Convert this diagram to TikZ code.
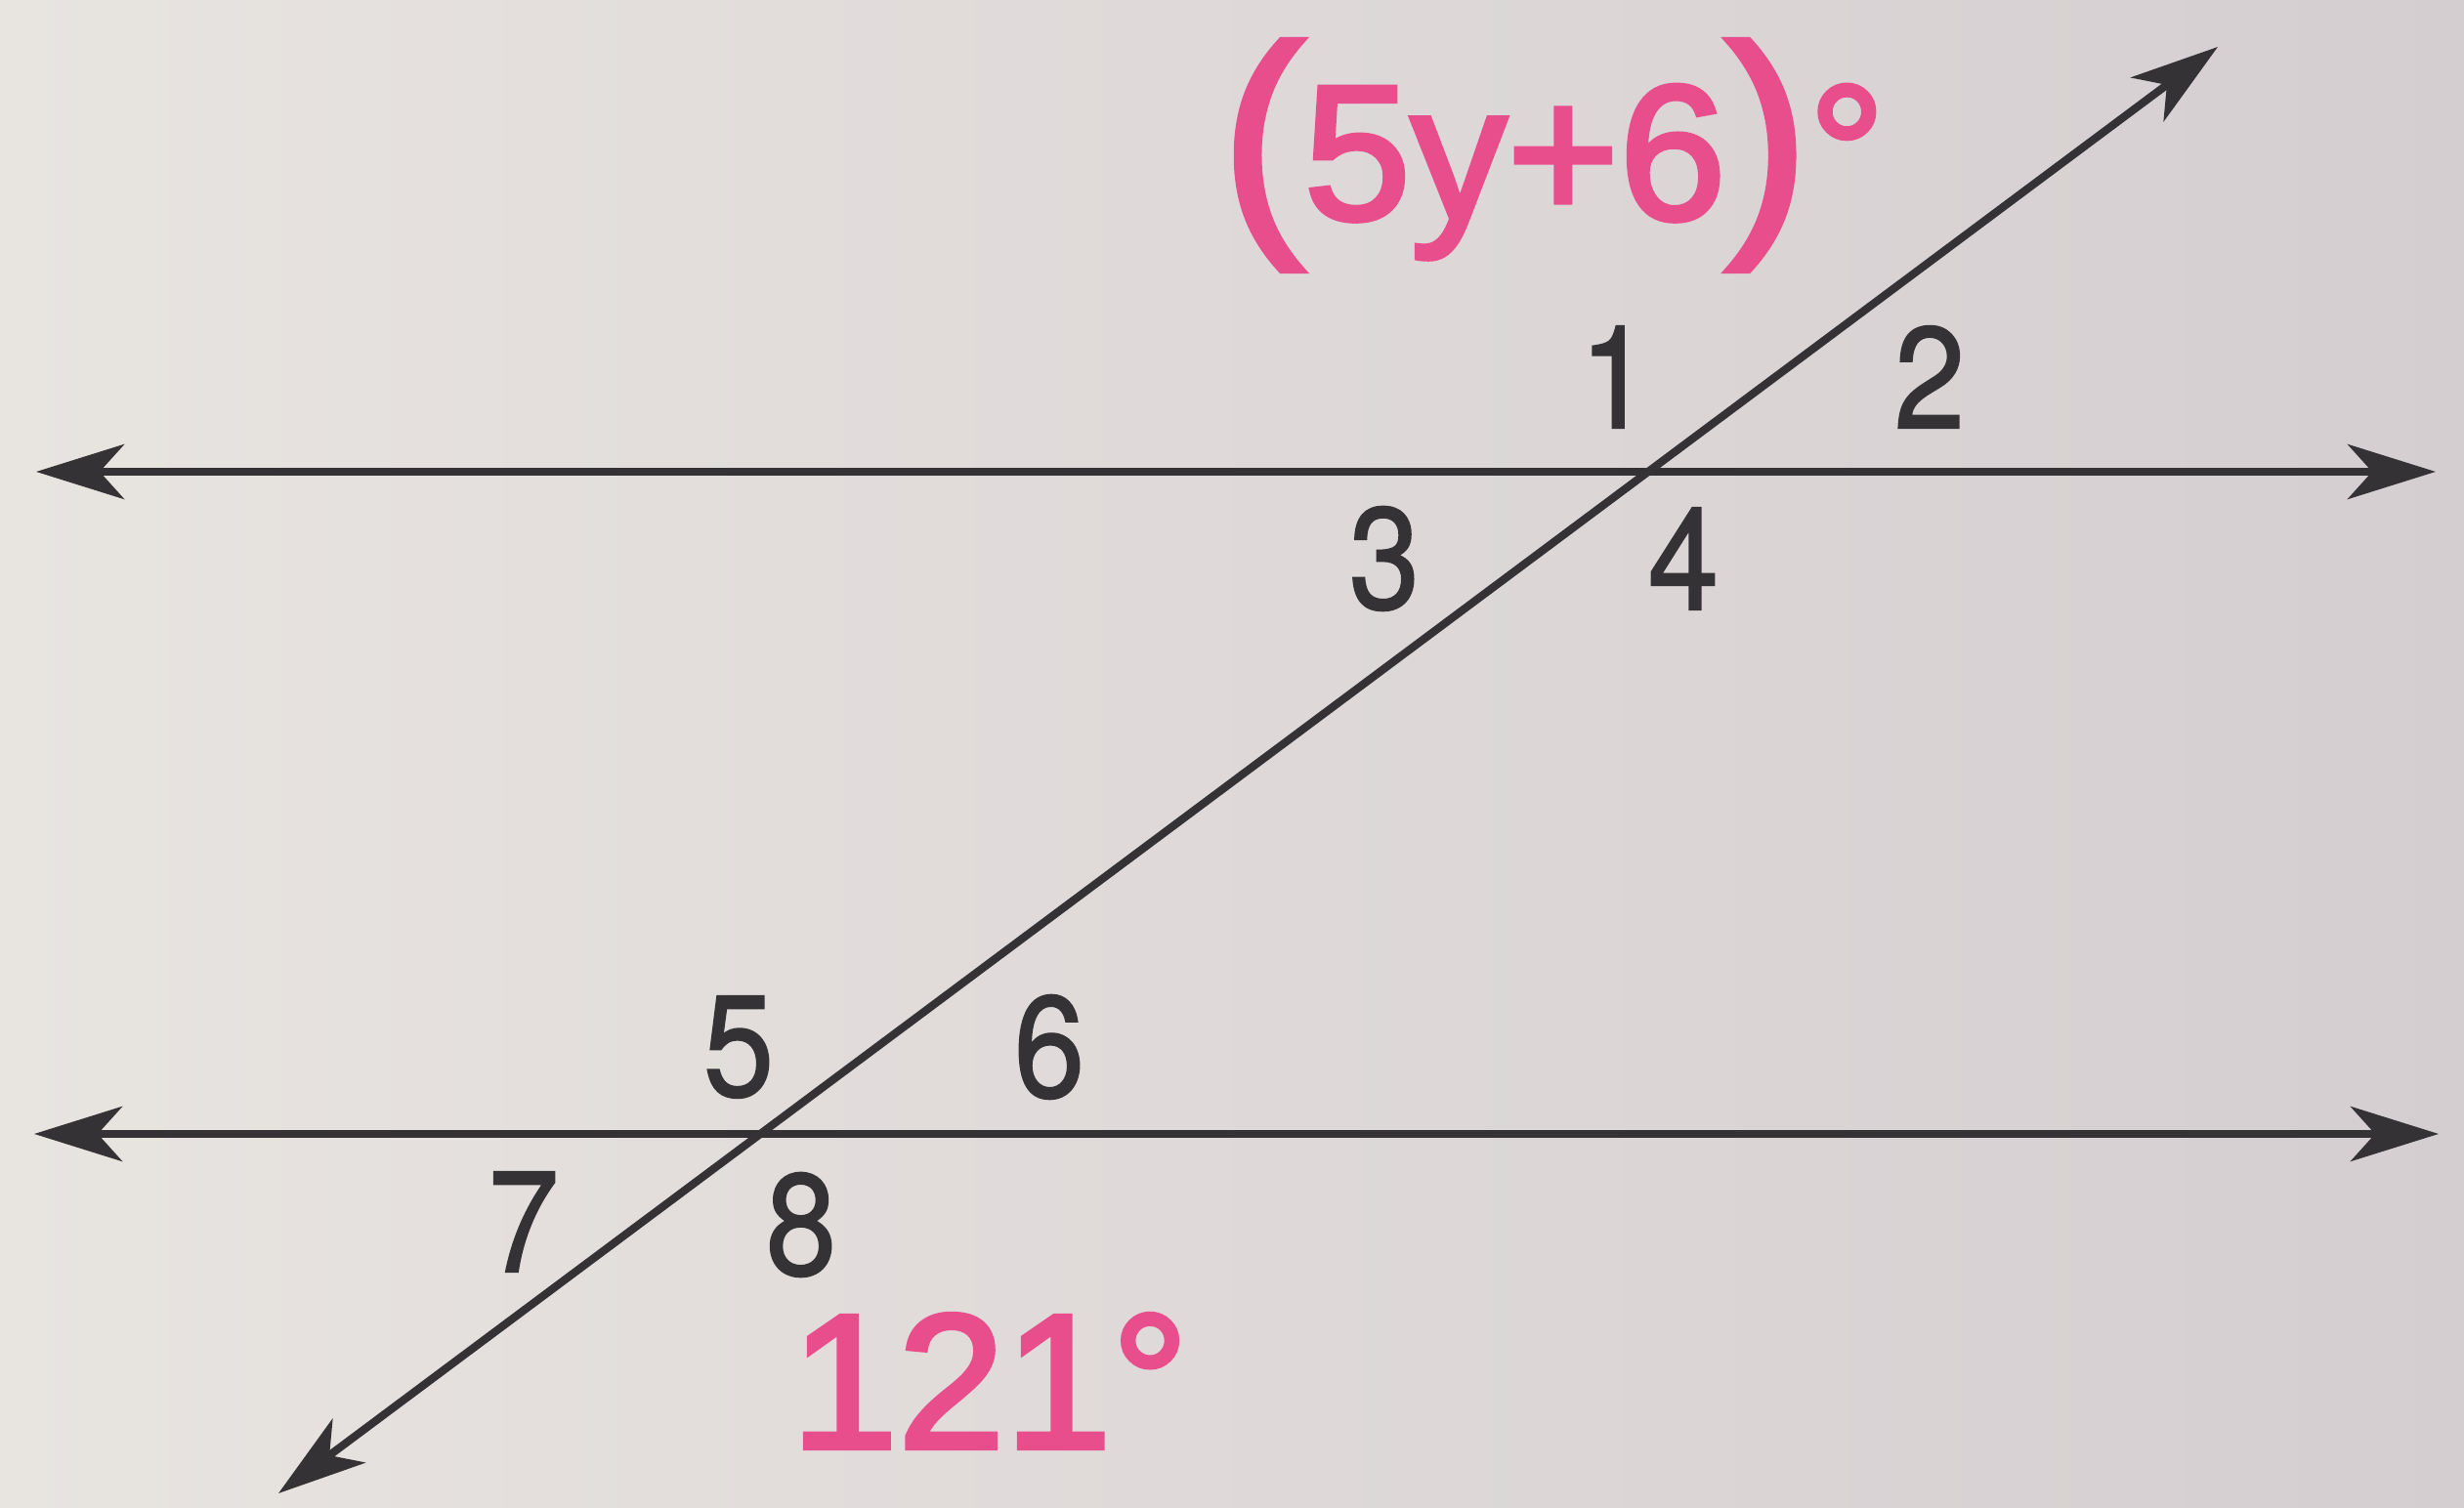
\documentclass[tikz,border=0pt]{standalone}
\usepackage{fontspec}
\setmainfont{Liberation Sans}
\newfontfamily\numfont[FakeStretch=0.88, FakeBold=1.2]{TeX Gyre Heros}
\newfontfamily\penfont[FakeBold=2.5]{Liberation Sans}
\usetikzlibrary{arrows.meta}
\definecolor{inkgray}{RGB}{52,50,53}
\definecolor{marker}{RGB}{232,78,140}
\definecolor{paperl}{RGB}{232,228,224}
\definecolor{paperr}{RGB}{213,206,209}

\begin{document}
\begin{tikzpicture}[
        >={Stealth[length=9mm, width=5.6mm, inset=2.5mm]},
        ray/.style={<->, inkgray, line width=2.3pt},
        anglenum/.style={shape=rectangle, inner sep=0pt, text=inkgray, font=\numfont\fontsize{42}{42}\selectfont},
        handnote/.style={shape=rectangle, inner sep=0pt, text=marker, font=\penfont\fontsize{56}{56}\selectfont}
    ]
        % paper
        \shade[left color=paperl, right color=paperr] (0,0) rectangle (25.22,15.44);
        \useasboundingbox (0,0) rectangle (25.22,15.44);
        % end points of the three lines
        \coordinate (topL) at (0.37, 10.61);
        \coordinate (topR) at (24.93, 10.61);
        \coordinate (botL) at (0.35, 3.83);
        \coordinate (botR) at (24.96, 3.83);
        \coordinate (transLow) at (2.85, 0.15);
        \coordinate (transUp) at (22.70, 14.96);
        \draw[ray] (topL) -- (topR);
        \draw[ray] (botL) -- (botR);
        \draw[ray] (transLow) -- (transUp);
        % angle numbers
        \node[name=one, anglenum] at (16.53, 11.58) {1};
        \node[name=two, anglenum] at (19.75, 11.58) {2};
        \node[name=three, anglenum] at (14.17, 9.72) {3};
        \node[name=four, anglenum] at (17.23, 9.72) {4};
        \node[name=five, anglenum] at (7.56, 4.72) {5};
        \node[name=six, anglenum] at (10.74, 4.72) {6};
        \node[name=seven, anglenum] at (5.36, 2.93) {7};
        \node[name=eight, anglenum] at (8.20, 2.90) {8};
        % handwritten measures
        \node[name=expr, handnote] at (15.90, 13.85) {{\fontsize{72}{72}\selectfont(}5y+6{\fontsize{72}{72}\selectfont)}°};
        \node[name=given, handnote] at (10.13, 1.30) {121°};
    \end{tikzpicture}
\end{document}
